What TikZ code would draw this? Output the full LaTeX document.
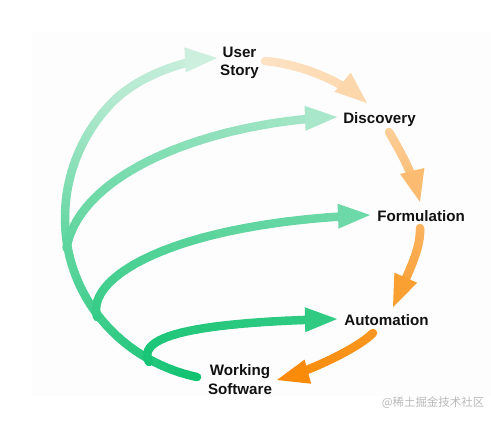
\documentclass[tikz,border=0pt]{standalone}
\usepackage{fontspec}
\setmainfont{Liberation Sans}
\newfontfamily\cjkfont{Noto Sans CJK SC}
\usetikzlibrary{calc}

\definecolor{gdark}{RGB}{13,194,111}
\definecolor{gpale}{RGB}{204,239,222}
\definecolor{odark}{RGB}{249,139,8}
\definecolor{opale}{RGB}{253,227,198}
\definecolor{bgfaint}{RGB}{253,253,253}
\definecolor{wmark}{RGB}{185,185,185}
\definecolor{lbltext}{RGB}{17,17,17}

\tikzset{
  lbl/.style={font=\bfseries\fontsize{15.2}{18.5}\selectfont, inner sep=0pt, text=lbltext, align=center},
  wm/.style={font=\cjkfont\fontsize{11.5}{13}\selectfont, inner sep=0pt, text=wmark}
}

% #1-#4 points of a cubic curve, #5 pale colour, #6 dark colour,
% #7 pale share at start, #8 pale share at end, #9 end time of the shaft
\newcommand\gradcurve[9]{%
  \foreach \k in {1,...,24}{%
    \pgfmathsetmacro\ta{#9*(\k-1)/24}%
    \pgfmathsetmacro\tb{#9*\k/24}%
    \pgfmathsetmacro\mixv{100*(#7+(#8-#7)*(\ta+\tb)/2)}%
    \colorlet{segc}{#5!\mixv!#6}%
    \begin{pgfscope}%
      \pgfsetlinewidth{8.5bp}\pgfsetroundcap\pgfsetstrokecolor{segc}%
      \pgfpathcurvebetweentime{\ta}{\tb}{#1}{#2}{#3}{#4}%
      \pgfusepath{stroke}%
    \end{pgfscope}%
  }%
}
% #1 tip coordinate, #2 point the head looks back to, #3 colour, #4 name for base point
\newcommand\headtri[4]{%
  \coordinate (#4) at ($(#1)!32bp!#2$);
  \fill[#3] (#1) -- ($(#4)!12.5bp!90:(#1)$) -- ($(#4)!12.5bp!-90:(#1)$) -- cycle;
}
\newcommand\PA[1]{\pgfpointanchor{#1}{center}}

\begin{document}
\begin{tikzpicture}[x=1bp,y=-1bp]
  \useasboundingbox (0,0) rectangle (491,420);
  \fill[bgfaint] (32,32) rectangle (491,396);

  % labels
  \node[lbl] (us)   at (239.5,63)  {User\\Story};
  \node[lbl,anchor=base] (disc) at (379.5,123.3) {Discovery};
  \node[lbl,anchor=base] (form) at (421,221.7) {Formulation};
  \node[lbl,anchor=base] (auto) at (386.5,325) {Automation};
  \node[lbl] (ws)   at (240,379.5) {Working\\Software};
  \node[wm] (mark) at (433,402.5) {@稀土掘金技术社区};

  % connector ports
  \coordinate (usL) at (217,58);
  \coordinate (usR) at (265,61);
  \coordinate (discL) at (337,117);
  \coordinate (discT) at (367,103);
  \coordinate (discB) at (389,132);
  \coordinate (formL) at (370,215);
  \coordinate (formT) at (420,202);
  \coordinate (formB) at (420,228);
  \coordinate (autoL) at (337,319);
  \coordinate (autoT) at (393,307);
  \coordinate (autoB) at (373,333);
  \coordinate (wsL) at (197,377);
  \coordinate (wsR) at (277,380);
  % trunk way points and branch junctions
  \coordinate (tA) at (65.4,229.5);
  \coordinate (tB) at (113.3,101.3);
  \coordinate (jD) at (66.5,248);
  \coordinate (jF) at (97,317);
  \coordinate (jA) at (149,362);

  % ---- green: Working Software -> User Story trunk and its branches
  \gradcurve{\PA{wsL}}{\pgfpointxy{125}{361.7}}{\pgfpointxy{70.5}{302.9}}{\PA{tA}}{gpale}{gdark}{0.003}{0.464}{1}
  \gradcurve{\PA{tA}}{\pgfpointxy{62.1}{181.8}}{\pgfpointxy{79.5}{135.1}}{\PA{tB}}{gpale}{gdark}{0.464}{0.865}{1}
  \gradcurve{\PA{tB}}{\pgfpointxy{138}{76.6}}{\pgfpointxy{182}{60}}{\PA{usL}}{gpale}{gdark}{0.865}{1}{0.79}
  \headtri{usL}{(182,60)}{gpale}{hUS}

  \gradcurve{\PA{jD}}{\pgfpointxy{80}{172}}{\pgfpointxy{210}{122}}{\PA{discL}}{gpale}{gdark}{0.41}{0.816}{0.94}
  \headtri{discL}{(210,122)}{gpale!81.6!gdark}{hD}

  \gradcurve{\PA{jF}}{\pgfpointxy{85}{275}}{\pgfpointxy{180}{222}}{\PA{formL}}{gpale}{gdark}{0.2}{0.509}{0.96}
  \headtri{formL}{(180,222)}{gpale!50.9!gdark}{hF}

  \gradcurve{\PA{jA}}{\pgfpointxy{135}{335}}{\pgfpointxy{200}{322}}{\PA{autoL}}{gpale}{gdark}{0.05}{0.184}{0.945}
  \headtri{autoL}{(200,322)}{gpale!18.4!gdark}{hA}

  % ---- orange cycle
  \gradcurve{\PA{usR}}{\pgfpointxy{300}{64}}{\pgfpointxy{340}{80}}{\PA{discT}}{opale}{odark}{0.991}{0.859}{0.79}
  \headtri{discT}{(340,80)}{opale!85.9!odark}{hO1}

  \gradcurve{\PA{discB}}{\pgfpointxy{398}{148}}{\pgfpointxy{412}{170}}{\PA{formT}}{opale}{odark}{0.769}{0.55}{0.78}
  \headtri{formT}{(412,170)}{opale!55!odark}{hO2}

  \gradcurve{\PA{formB}}{\pgfpointxy{421}{250}}{\pgfpointxy{407}{275}}{\PA{autoT}}{opale}{odark}{0.469}{0.222}{0.79}
  \headtri{autoT}{(407,275)}{opale!22.2!odark}{hO3}

  \gradcurve{\PA{autoB}}{\pgfpointxy{358}{348}}{\pgfpointxy{312}{370.5}}{\PA{wsR}}{opale}{odark}{0.141}{0}{0.8}
  \headtri{wsR}{(312,370.5)}{odark}{hO4}
\end{tikzpicture}
\end{document}
